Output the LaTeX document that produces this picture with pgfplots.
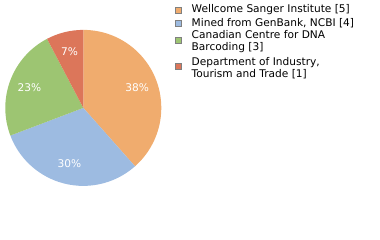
\documentclass[border=0pt]{standalone}
\usepackage{pgfplots}
\usepackage{pgfplotstable}
\pgfplotsset{compat=1.18}
\usetikzlibrary{calc}
\usepackage{fontspec}
\setmainfont{DejaVu Sans}
\definecolor{cA}{RGB}{240,172,110}
\definecolor{cB}{RGB}{157,187,225}
\definecolor{cC}{RGB}{157,197,114}
\definecolor{cD}{RGB}{220,118,90}
\pgfplotstableread{
value color
5 cA
4 cB
3 cC
1 cD
}\pietable
\tikzset{lab/.style={font=\fontsize{10.6bp}{12bp}\selectfont,inner sep=0pt}}
\begin{document}
\begin{tikzpicture}
\path[use as bounding box] (0,0) rectangle (380bp,240bp);
\begin{axis}[x=1bp,y=1bp,xmin=0,xmax=380,ymin=0,ymax=240,hide axis,
  scale only axis,clip=false,at={(0,0)},anchor=south west]
\pgfplotstablegetrowsof{\pietable}
\pgfmathtruncatemacro{\nrows}{\pgfplotsretval-1}
\def\total{0}
\foreach \i in {0,...,\nrows}{%
  \pgfplotstablegetelem{\i}{value}\of\pietable
  \pgfmathsetmacro{\t}{\total+\pgfplotsretval}
  \global\let\total\t
}
\gdef\curangle{90}
\foreach \i in {0,...,\nrows}{%
  \pgfplotstablegetelem{\i}{value}\of\pietable
  \let\v\pgfplotsretval
  \pgfplotstablegetelem{\i}{color}\of\pietable
  \let\c\pgfplotsretval
  \pgfmathsetmacro{\endang}{\curangle-360*\v/\total}
  \pgfmathsetmacro{\midang}{(\curangle+\endang)/2}
  \pgfmathtruncatemacro{\pct}{100*\v/\total}
  \edef\tmp{\noexpand\fill[\c] (axis cs:83.3,132.1) -- ++(\curangle:78bp) arc[start angle=\curangle, end angle=\endang, radius=78bp] -- cycle;
    \noexpand\node[lab,text=white] at ($(axis cs:83.3,132.1)+(\midang:57.7bp)$) {\pct\noexpand\%};}
  \tmp
  \global\let\curangle\endang
}
% legend
\draw[fill=cA,draw=gray] (axis cs:175.5,226.7) rectangle (axis cs:181.5,232.7);
\draw[fill=cB,draw=gray] (axis cs:175.5,214) rectangle (axis cs:181.5,220);
\draw[fill=cC,draw=gray] (axis cs:175.5,196.7) rectangle (axis cs:181.5,202.7);
\draw[fill=cD,draw=gray] (axis cs:175.5,170.7) rectangle (axis cs:181.5,176.7);
\node[lab,anchor=base west] at (axis cs:191.5,227.3) {Wellcome Sanger Institute [5]};
\node[lab,anchor=base west] at (axis cs:191.5,213.3) {Mined from GenBank, NCBI [4]};
\node[lab,anchor=base west] at (axis cs:191.5,201.3) {Canadian Centre for DNA};
\node[lab,anchor=base west] at (axis cs:191.5,189.3) {Barcoding [3]};
\node[lab,anchor=base west] at (axis cs:191.5,174.3) {Department of Industry,};
\node[lab,anchor=base west] at (axis cs:191.5,162.3) {Tourism and Trade [1]};
\end{axis}
\end{tikzpicture}
\end{document}
